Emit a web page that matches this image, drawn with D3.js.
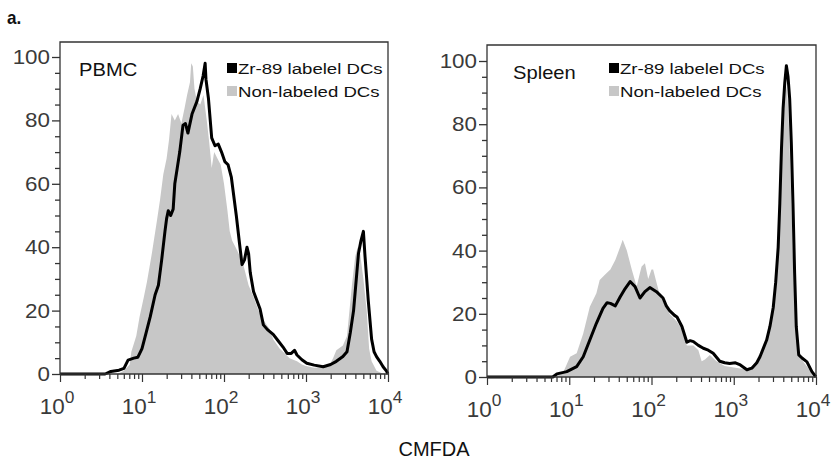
<!DOCTYPE html>
<html><head><meta charset="utf-8">
<script src="https://cdn.jsdelivr.net/npm/d3@7"></script>
<style>
body{margin:0;background:#fff;}
svg{display:block;font-family:"Liberation Sans",Arial,Helvetica,sans-serif;}
</style></head>
<body><svg id="chart" width="832" height="462"></svg>
<script>
// ---- Data (x = log10 of CMFDA intensity, y = % of max) ----
const decadeTicks = [1, 10, 100, 1000, 10000];
const yTicks = [0, 20, 40, 60, 80, 100];
const legendLabels = ["Zr-89 labelel DCs", "Non-labeled DCs"];
const panelNames = ["PBMC", "Spleen"];
const xTitle = "CMFDA";
const figLabel = "a.";

const pbmcZr = [[0,0],[0.55,0],[0.62,0.8],[0.72,1.2],[0.78,1.8],[0.83,4.4],[0.9,5],[0.95,5.3],[1.0,8],[1.05,13],[1.1,18],
 [1.16,25],[1.2,28],[1.24,36],[1.28,45],[1.3,49],[1.32,51.5],[1.35,50],[1.38,52],[1.4,60],[1.43,65],[1.46,70],[1.5,78.5],
 [1.53,79],[1.56,76],[1.61,82],[1.67,86],[1.71,90],[1.745,94],[1.77,98],[1.78,93],[1.81,87],[1.85,74.5],[1.89,72],[1.93,72.5],
 [1.97,70],[2.01,67],[2.05,66],[2.09,62],[2.15,50],[2.19,41],[2.22,34.5],[2.25,36],[2.28,40],[2.3,38],[2.32,32],[2.36,26],
 [2.44,20.5],[2.48,15.5],[2.53,14],[2.6,12.5],[2.66,10.5],[2.72,8.5],[2.77,6.5],[2.82,6.5],[2.86,7.5],[2.89,6],[2.95,4.5],
 [3.01,3.4],[3.1,2.8],[3.21,2.3],[3.3,3],[3.37,4],[3.45,5.5],[3.5,7],[3.54,13],[3.58,20],[3.62,32],[3.64,38],[3.67,42],
 [3.7,45],[3.72,37],[3.74,30],[3.76,23],[3.8,11],[3.83,7],[3.86,5.5],[3.9,4],[3.94,2.3],[3.98,1],[4.0,0]];

const pbmcNon = [[0,0],[0.7,0],[0.78,1],[0.85,3],[0.87,7],[0.93,12],[0.97,18],[1.02,24],[1.06,29],[1.12,38],[1.18,48],
 [1.22,55],[1.26,63],[1.3,68],[1.33,74],[1.36,82],[1.4,80],[1.44,82],[1.48,79],[1.52,84],[1.55,88],[1.585,92],[1.6,98],
 [1.62,97],[1.64,90],[1.67,86],[1.71,85],[1.75,88],[1.79,80],[1.82,73],[1.85,65],[1.88,70],[1.92,68],[1.96,66],[2.0,60],
 [2.04,52],[2.07,45],[2.1,42],[2.16,39],[2.23,35],[2.3,28],[2.35,25],[2.42,20],[2.48,17],[2.56,14],[2.6,11],[2.68,8],
 [2.72,7],[2.8,5],[2.89,4],[2.95,3],[3.0,2.5],[3.1,2],[3.2,2.2],[3.29,3],[3.33,5],[3.37,7.5],[3.45,9],[3.5,12],[3.53,20],
 [3.56,28],[3.6,37],[3.63,40],[3.66,38],[3.7,30],[3.74,20],[3.77,8],[3.8,4],[3.86,1],[3.92,0.3],[4.0,0]];

const spleenZr = [[0,0],[0.8,0],[0.85,1],[0.97,1.7],[1.09,3.3],[1.17,6.4],[1.25,11.7],[1.33,17],[1.41,21.7],[1.46,23.5],
 [1.5,23.3],[1.56,22.5],[1.62,25.4],[1.68,28],[1.74,30.2],[1.8,28.6],[1.86,25],[1.92,27],[1.98,28.3],[2.06,27],[2.14,25],
 [2.18,22.5],[2.22,21],[2.28,19.5],[2.31,19],[2.37,16],[2.43,11],[2.47,11.5],[2.51,11.2],[2.57,10],[2.63,9.1],[2.69,8.5],
 [2.75,7.5],[2.83,5],[2.89,4.5],[2.95,4.3],[3.02,4.5],[3.08,3.8],[3.16,2.3],[3.22,2.8],[3.28,4.5],[3.32,6.5],[3.4,11.7],
 [3.44,16],[3.48,22],[3.51,30],[3.54,41],[3.56,55],[3.58,72],[3.6,85],[3.62,93],[3.64,98.5],[3.66,95],[3.68,88],[3.7,74],
 [3.72,55],[3.74,33],[3.76,16],[3.79,7],[3.83,6],[3.89,4.8],[3.95,1.7],[4.0,0]];

const spleenNon = [[0,0],[0.75,0],[0.85,1],[0.93,1.7],[1.01,6.4],[1.09,7.5],[1.17,13.8],[1.25,22.2],[1.33,26.5],[1.37,30.7],
 [1.43,32.3],[1.5,34],[1.56,37],[1.62,41.2],[1.65,43.4],[1.7,40],[1.76,34],[1.82,28.6],[1.86,33],[1.88,35],[1.92,36],
 [1.96,31],[2.0,34],[2.02,34],[2.06,30],[2.1,26],[2.14,24],[2.22,20],[2.31,17.5],[2.37,15],[2.43,10],[2.51,10],[2.57,8.5],
 [2.61,5],[2.65,5.5],[2.71,7],[2.79,5],[2.89,3.5],[3.0,3],[3.12,2.5],[3.2,3],[3.28,5],[3.36,9],[3.42,14],[3.48,22],
 [3.52,35],[3.55,48],[3.58,70],[3.61,88],[3.63,93],[3.65,90],[3.67,80],[3.7,55],[3.72,38],[3.75,18],[3.78,9],[3.84,5],
 [3.9,3],[3.96,0.5],[4.0,0]];

// ---- Layout ----
const svg = d3.select("#chart");
const panels = [
  {name: panelNames[0], zr: pbmcZr, non: pbmcNon, left: 60, right: 388, top: 42, y100: 57, y0: 374,
   nameX: 79, legX: 227},
  {name: panelNames[1], zr: spleenZr, non: spleenNon, left: 487, right: 816, top: 45, y100: 61, y0: 377,
   nameX: 513, legX: 609}
];
const grayFill = "#c7c7c7";
const axisColor = "#333";
const labelColor = "#3a3a3a";

function stretchedText(g, x, y, str, size, sx, anchor, color, weight) {
  return g.append("text")
    .attr("transform", `translate(${x},${y}) scale(${sx},1)`)
    .attr("font-size", size).attr("text-anchor", anchor || "start")
    .attr("fill", color || "#111").attr("font-weight", weight || "normal")
    .text(str);
}

panels.forEach(p => {
  const g = svg.append("g");
  const x = d3.scaleLog().domain([1, 10000]).range([p.left, p.right]);
  const y = d3.scaleLinear().domain([0, 100]).range([p.y0, p.y100]);
  const toX = d => x(Math.pow(10, d[0]));

  // gray filled histogram
  const area = d3.area().x(toX).y0(y(0)).y1(d => y(d[1]));
  g.append("path").datum(p.non).attr("d", area).attr("fill", grayFill);

  // black outline histogram
  const line = d3.line().x(toX).y(d => y(d[1]));
  g.append("path").datum(p.zr).attr("d", line).attr("fill", "none")
    .attr("stroke", "#000").attr("stroke-width", 3).attr("stroke-linejoin", "round");

  // frame (top, right)
  g.append("path")
    .attr("d", `M${p.left},${p.y0}V${p.top}H${p.right}V${p.y0}`)
    .attr("fill", "none").attr("stroke", axisColor).attr("stroke-width", 1.3);

  // y axis
  const yAxis = d3.axisLeft(y).tickValues(d3.range(0, 101, 5)).tickSize(5).tickFormat("");
  const ya = g.append("g").attr("transform", `translate(${p.left},0)`).call(yAxis);
  ya.select(".domain").remove();
  ya.selectAll(".tick line").attr("stroke", axisColor).attr("stroke-width", 1.3)
    .attr("x2", d => (d % 20 === 0 ? -8 : -5));
  yTicks.forEach(t => {
    stretchedText(g, p.left - 10, y(t) + 7, String(t), 20, 1.12, "end", labelColor);
  });

  // x axis
  const minor = [];
  for (let e = 0; e < 4; e++) for (let k = 1; k <= 9; k++) minor.push(k * Math.pow(10, e));
  minor.push(10000);
  const xAxis = d3.axisBottom(x).tickValues(minor).tickSize(5).tickFormat("");
  const xa = g.append("g").attr("transform", `translate(0,${p.y0})`).call(xAxis);
  xa.select(".domain").attr("stroke", axisColor).attr("stroke-width", 1.3).attr("d", `M${p.left},0H${p.right}`);
  xa.selectAll(".tick line").attr("stroke", axisColor).attr("stroke-width", 1.2)
    .attr("y2", d => (decadeTicks.includes(d) ? 8 : 5));
  decadeTicks.forEach((t, i) => {
    const tx = g.append("text")
      .attr("transform", `translate(${x(t) - 3},${p.y0 + 40}) scale(1.02,1)`)
      .attr("text-anchor", "middle").attr("fill", labelColor).attr("font-size", 22);
    tx.append("tspan").text("10");
    tx.append("tspan").attr("font-size", 17).attr("dy", -11).text(String(i));
  });

  // panel name
  stretchedText(g, p.nameX, p.top + 34, p.name, 18, 1.12, "start", "#111");

  // legend
  const legY = [63, 86];
  [["#000"], [grayFill]].forEach((c, i) => {
    g.append("rect").attr("x", p.legX).attr("y", legY[i]).attr("width", 10).attr("height", 10).attr("fill", c[0]);
    stretchedText(g, p.legX + 11, legY[i] + 11, legendLabels[i], 15.5, 1.2, "start", "#111");
  });
});

stretchedText(svg, 434, 456, xTitle, 20, 1.0, "middle", "#111");
stretchedText(svg, 7, 24, figLabel, 18, 0.95, "start", "#111", "bold");
</script></body></html>
